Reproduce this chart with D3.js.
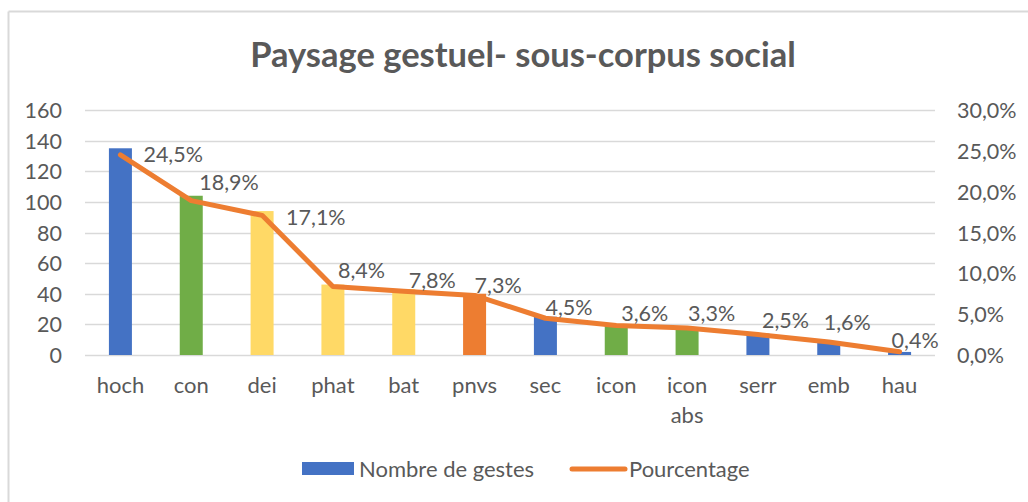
<!DOCTYPE html>
<html>
<head>
<meta charset="utf-8">
<script src="https://cdn.jsdelivr.net/npm/d3@7"></script>
<style>
  html, body { margin: 0; padding: 0; background: #fff; }
  svg { display: block; }
  text { font-family: Lato, "Open Sans", sans-serif; fill: #595959; }
</style>
</head>
<body>
<svg id="chart" width="1028" height="502"></svg>
<script>
// Gesture categories of the social sub-corpus
const categories = ["hoch", "con", "dei", "phat", "bat", "pnvs", "sec", "icon", "icon abs", "serr", "emb", "hau"];
// Number of gestures per category
const counts = [135, 104, 94, 46, 43, 40, 25, 20, 18, 14, 9, 2];
// Share of each category (%)
const percents = [24.5, 18.9, 17.1, 8.4, 7.8, 7.3, 4.5, 3.6, 3.3, 2.5, 1.6, 0.4];
// Colour group of each bar
const barGroups = ["blue", "green", "yellow", "yellow", "yellow", "orange", "blue", "green", "green", "blue", "blue", "blue"];
// Axis ticks
const countTicks = [0, 20, 40, 60, 80, 100, 120, 140, 160];
const percentTicks = [0, 5, 10, 15, 20, 25, 30];

const palette = { blue: "#4472C4", green: "#70AD47", yellow: "#FFD966", orange: "#ED7D31" };

// Placement of each percentage label relative to its point (dx, dy of the label's left/middle)
const labelNudge = [[23, 0], [8, -18], [24, 2], [5, -16], [5, -11], [0, -10],
                    [0, -11], [5, -12], [1, -15], [4, -14], [-5, -19], [-8, -11]];

const svg = d3.select("#chart");
const W = 1028, H = 502;
const plotLeft = 85, plotRight = 935, plotTop = 110, plotBottom = 355;
const numSize = "21.5px", wordSize = "22px";

// Frame (only the top and left edges fall inside the view)
svg.append("line").attr("x1", 8.5).attr("x2", W).attr("y1", 11.5).attr("y2", 11.5)
  .attr("stroke", "#D9D9D9").attr("stroke-width", 2);
svg.append("line").attr("x1", 8.5).attr("x2", 8.5).attr("y1", 11.5).attr("y2", H)
  .attr("stroke", "#D9D9D9").attr("stroke-width", 2);

// Title
svg.append("text")
  .attr("x", 523).attr("y", 67)
  .attr("text-anchor", "middle")
  .style("font-size", "34.5px").style("font-weight", "700")
  .text("Paysage gestuel- sous-corpus social");

const x = d3.scaleBand().domain(categories).range([plotLeft, plotRight]).paddingInner(0).paddingOuter(0);
const y = d3.scaleLinear().domain([0, 160]).range([plotBottom, plotTop]);
const y2 = d3.scaleLinear().domain([0, 30]).range([plotBottom, plotTop]);

// Gridlines
svg.append("g")
  .selectAll("line").data(countTicks).join("line")
  .attr("x1", plotLeft).attr("x2", plotRight)
  .attr("y1", d => Math.round(y(d)) + 0.5).attr("y2", d => Math.round(y(d)) + 0.5)
  .attr("stroke", "#D9D9D9").attr("stroke-width", 1.5);

// Left axis
const leftAxis = svg.append("g")
  .attr("transform", `translate(${plotLeft - 23},0)`)
  .call(d3.axisLeft(y).tickValues(countTicks).tickSize(0).tickPadding(0).tickFormat(d3.format("d")));
leftAxis.select(".domain").remove();
leftAxis.selectAll("text").style("font-size", numSize).attr("fill", "#595959").attr("dy", "0.35em");

// Right axis
const fr = d3.formatLocale({ decimal: ",", thousands: " ", grouping: [3], currency: ["", "€"] });
const pctFmt = d => fr.format(".1f")(d) + "%";
const rightAxis = svg.append("g")
  .attr("transform", `translate(${plotRight + 22},0)`)
  .call(d3.axisRight(y2).tickValues(percentTicks).tickSize(0).tickPadding(0).tickFormat(pctFmt));
rightAxis.select(".domain").remove();
rightAxis.selectAll("text").style("font-size", numSize).attr("fill", "#595959").attr("dy", "0.35em");

// Bars
const barW = 23;
svg.append("g")
  .selectAll("rect").data(categories).join("rect")
  .attr("x", d => x(d) + x.bandwidth() / 2 - barW / 2)
  .attr("width", barW)
  .attr("y", (d, i) => y(counts[i]))
  .attr("height", (d, i) => y(0) - y(counts[i]))
  .attr("fill", (d, i) => palette[barGroups[i]]);

// Category labels
const catG = svg.append("g");
categories.forEach(c => {
  const words = c.split(" ");
  const t = catG.append("text")
    .attr("x", x(c) + x.bandwidth() / 2)
    .attr("y", 393)
    .attr("text-anchor", "middle")
    .style("font-size", wordSize);
  words.forEach((w, k) => {
    t.append("tspan").attr("x", x(c) + x.bandwidth() / 2).attr("dy", k === 0 ? 0 : 30).text(w);
  });
});

// Percentage line
const line = d3.line()
  .x((d, i) => x(categories[i]) + x.bandwidth() / 2)
  .y(d => y2(d));
svg.append("path")
  .datum(percents)
  .attr("d", line)
  .attr("fill", "none")
  .attr("stroke", palette.orange)
  .attr("stroke-width", 5)
  .attr("stroke-linecap", "round")
  .attr("stroke-linejoin", "round");

// Percentage labels
svg.append("g")
  .selectAll("text").data(percents).join("text")
  .attr("x", (d, i) => x(categories[i]) + x.bandwidth() / 2 + labelNudge[i][0])
  .attr("y", (d, i) => y2(d) + labelNudge[i][1])
  .attr("dy", "0.35em")
  .style("font-size", numSize)
  .attr("fill", "#404040")
  .text(d => fr.format(".1f")(d) + "%");

// Legend
const lg = svg.append("g");
lg.append("rect").attr("x", 302).attr("y", 462).attr("width", 52).attr("height", 13).attr("fill", palette.blue);
lg.append("text").attr("x", 359).attr("y", 469).attr("dy", "0.35em").style("font-size", wordSize).text("Nombre de gestes");
lg.append("line").attr("x1", 572).attr("x2", 625).attr("y1", 469).attr("y2", 469)
  .attr("stroke", palette.orange).attr("stroke-width", 5).attr("stroke-linecap", "round");
lg.append("text").attr("x", 629).attr("y", 469).attr("dy", "0.35em").style("font-size", wordSize).text("Pourcentage");
</script>
</body>
</html>
